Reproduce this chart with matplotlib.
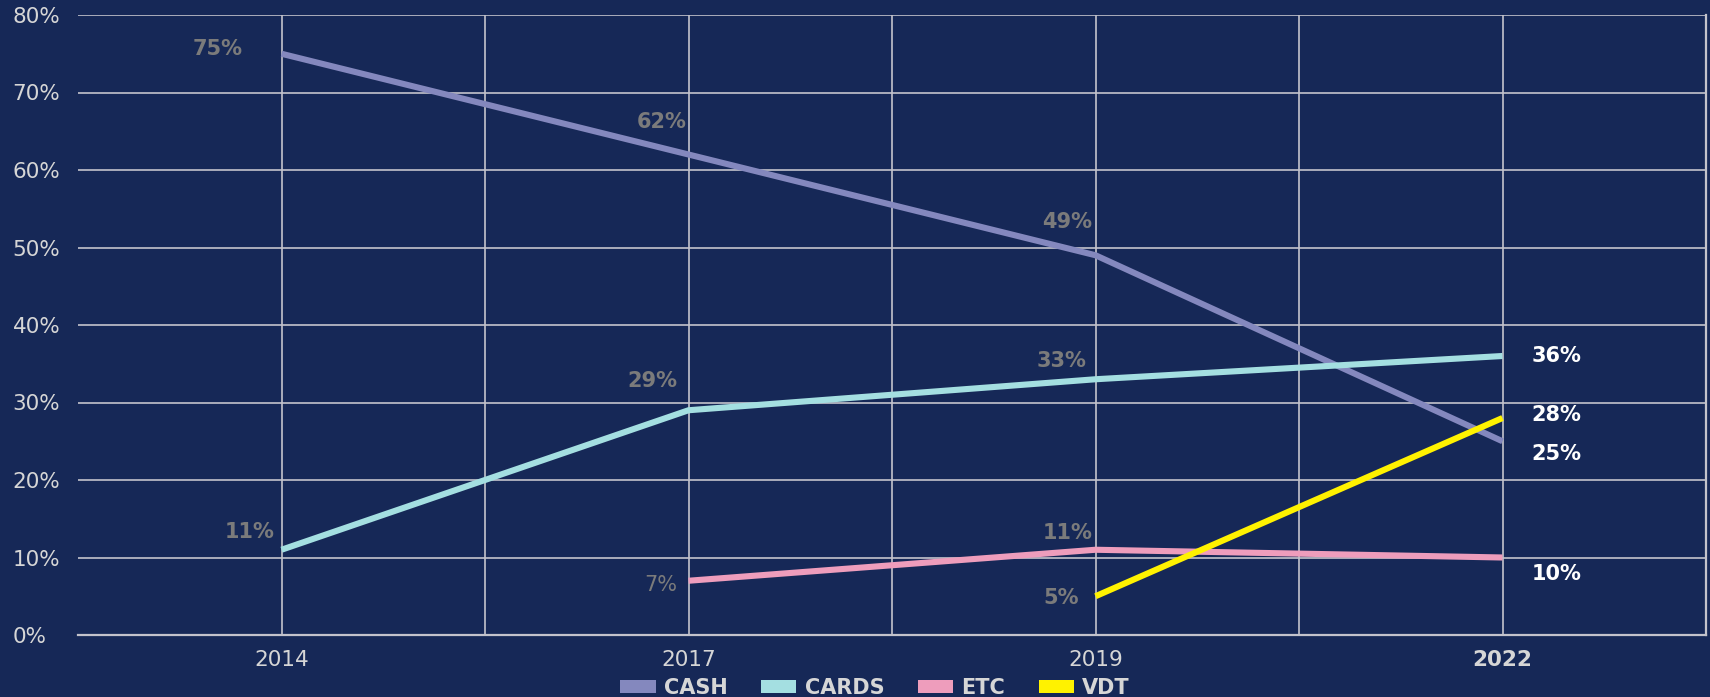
import matplotlib
matplotlib.use("Agg")
import matplotlib.pyplot as plt
from matplotlib.patches import Patch

# category slots on the x axis (data sits on odd slots)
slots = [1, 2, 3, 4, 5, 6, 7, 8]
slot_labels = ["2014", "", "2017", "", "2019", "", "2022", ""]

cash_x = [1, 3, 5, 7]
cash = [75, 62, 49, 25]
cards_x = [1, 3, 5, 7]
cards = [11, 29, 33, 36]
etc_x = [3, 5, 7]
etc = [7, 11, 10]
vdt_x = [5, 7]
vdt = [5, 28]

BG = "#162857"
GRID = "#c3c3cc"
GRAY = "#7b7b7b"

series = [
    ("CASH", cash_x, cash, "#8488be"),
    ("CARDS", cards_x, cards, "#a4dfe1"),
    ("ETC", etc_x, etc, "#ee9dbc"),
    ("VDT", vdt_x, vdt, "#fff200"),
]

# label offsets in pixels (dx, dy) for each point
offsets = {
    "CASH": [(-64, 5), (-27, 33), (-28, 33), (29, -13)],
    "CARDS": [(-32, 18), (-36, 29), (-34, 18), (29, 0)],
    "ETC": [(-28, -4), (-28, 17), (29, -17)],
    "VDT": [(-34, -2), (29, 3)],
}

plt.rcParams["font.family"] = ["DejaVu Sans"]

fig = plt.figure(figsize=(17.1, 6.97), dpi=100, facecolor=BG)
ax = fig.add_axes([78 / 1710, 62 / 697, 1628 / 1710, 620 / 697])
ax.set_facecolor(BG)

for name, xs, ys, color in series:
    ax.plot(xs, ys, color=color, lw=4.4, solid_capstyle="butt", zorder=3)
    for x, y, (dx, dy) in zip(xs, ys, offsets[name]):
        last = x == 7
        weight = "normal" if (name == "ETC" and x == 3) else "bold"
        ax.annotate(f"{y}%", (x, y), xytext=(dx, dy),
                    textcoords="offset pixels",
                    ha="left" if last else "center", va="center",
                    fontsize=15, fontweight=weight,
                    color="white" if last else GRAY, zorder=4)

ax.set_xlim(0, 8)
ax.set_ylim(0, 80)
ax.set_xticks(slots)
ax.set_xticklabels(slot_labels)
ax.set_yticks(range(0, 81, 10))
ax.set_yticklabels([f"{v}%" for v in range(0, 81, 10)])

ax.grid(True, color=GRID, lw=1.2, zorder=1)
ax.set_axisbelow(True)
for side in ["left", "top"]:
    ax.spines[side].set_visible(False)
for side in ["right", "bottom"]:
    ax.spines[side].set_color(GRID)
    ax.spines[side].set_linewidth(1.6)

ax.tick_params(axis="both", length=0, labelsize=15.5, labelcolor="#d6d6d6")
ax.tick_params(axis="x", pad=11)
ax.tick_params(axis="y", pad=47)
for lbl in ax.get_yticklabels():
    lbl.set_horizontalalignment("left")
ax.get_xticklabels()[6].set_fontweight("bold")

handles = [Patch(facecolor=c, edgecolor="none", label=n) for n, _, _, c in series]
leg = fig.legend(handles=handles, loc="center", ncol=4, frameon=False,
                 bbox_to_anchor=(875 / 1710, 1 - 688 / 697),
                 handlelength=1.7, handleheight=0.6, handletextpad=0.4,
                 columnspacing=1.6, prop={"size": 15, "weight": "bold"})
for t in leg.get_texts():
    t.set_color("#d6d6d6")

fig.savefig("out.png", dpi=100, facecolor=BG)
